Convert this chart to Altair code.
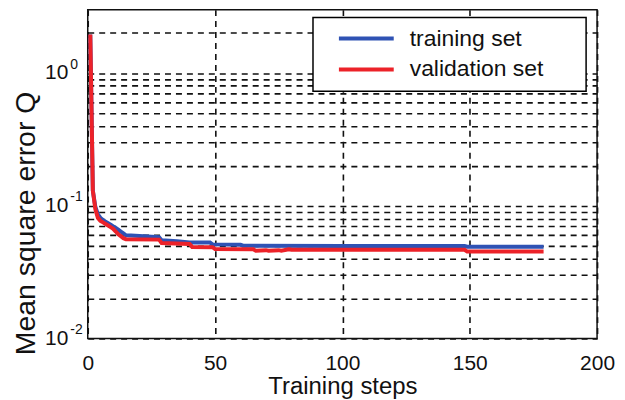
import altair as alt
import pandas as pd

# ---- data ----
train_epochs = [1, 2, 3, 4, 5, 6, 7, 8, 9, 10, 11, 12, 13, 14, 15, 17, 22, 28, 29, 35, 40, 48, 49, 60, 61, 100, 148, 149, 179]
train_mse = [1.95, 0.13, 0.098, 0.086, 0.081, 0.078, 0.076, 0.074, 0.072, 0.070, 0.068, 0.066, 0.064, 0.062, 0.060,
             0.0597, 0.0590, 0.0580, 0.0550, 0.0540, 0.0530, 0.0528, 0.0512, 0.0508, 0.0500, 0.0498, 0.0497, 0.0491, 0.0491]

val_epochs = [1, 2, 3, 4, 5, 6, 7, 8, 9, 10, 11, 12, 13, 14, 15, 28, 29, 40, 41, 49, 50, 65, 66, 70, 71, 75, 76, 79, 80, 148, 149, 179]
val_mse = [1.95, 0.13, 0.094, 0.081, 0.077, 0.075, 0.073, 0.071, 0.069, 0.067, 0.064, 0.061, 0.059, 0.057, 0.0560,
           0.0556, 0.0525, 0.0515, 0.0490, 0.0488, 0.0472, 0.0470, 0.0458, 0.0463, 0.0458, 0.0463, 0.0458, 0.0470, 0.0466,
           0.0466, 0.0452, 0.0452]

series_names = ["training set", "validation set"]
series_colors = ["#2f52b4", "#ec2229"]

x_ticks = [0, 50, 100, 150, 200]
y_decades = [0.01, 0.1, 1]
y_exponents = ["-2", "-1", "0"]
y_grid = [0.02, 0.03, 0.04, 0.05, 0.06, 0.07, 0.08, 0.09, 0.1, 0.2, 0.3, 0.4, 0.5, 0.6, 0.7, 0.8, 0.9, 1, 2]

df = pd.concat([
    pd.DataFrame({"epoch": train_epochs, "mse": train_mse, "series": series_names[0]}),
    pd.DataFrame({"epoch": val_epochs, "mse": val_mse, "series": series_names[1]}),
])

base_expr = "indexof(%s, datum.value) >= 0 ? '10' : ''" % str(y_decades)
exp_expr = ("datum.value == 1 ? '%s' : datum.value == 0.1 ? '%s' : datum.value == 0.01 ? '%s' : ''"
            % (y_exponents[2], y_exponents[1], y_exponents[0]))

FONT = "Liberation Sans"
x_enc = alt.X("epoch:Q",
              scale=alt.Scale(domain=[0, 200], nice=False, zero=False),
              axis=alt.Axis(values=x_ticks, title="Training steps", labelFlush=False,
                            labelFontSize=21, titleFontSize=24, labelPadding=14, titlePadding=1,
                            ticks=False, domain=False, grid=True))
y_scale = alt.Scale(type="log", domain=[0.01, 3], nice=False)

lines = alt.Chart(df).mark_line(strokeWidth=4, clip=True, interpolate="linear").encode(
    x=x_enc,
    y=alt.Y("mse:Q", scale=y_scale,
            axis=alt.Axis(orient="left", values=y_decades + y_grid, labelExpr=base_expr,
                          title="Mean square error Q",
                          labelFlush=False, labelOverlap=False, labelFontSize=21, labelPadding=20,
                          titleFontSize=28.5, titleAngle=270, titleAlign="center", titleBaseline="middle",
                          titleX=-62, titleY=214,
                          ticks=False, domain=False, grid=True)),
    color=alt.Color("series:N",
                    scale=alt.Scale(domain=series_names, range=series_colors),
                    legend=alt.Legend(title=None, orient="none", legendX=226, legendY=8,
                                      symbolType="stroke", symbolSize=3025, symbolStrokeWidth=4,
                                      labelFontSize=23, labelLimit=300, clipHeight=22, rowPadding=8,
                                      symbolOffset=14, labelOffset=14,
                                      labelExpr="datum.label + '\u00a0\u00a0\u00a0\u00a0\u00a0\u200b'",
                                      fillColor="white", strokeColor="black", padding=10)),
)

exponents = alt.Chart(df).mark_line(opacity=0).encode(
    x=x_enc,
    y=alt.Y("mse:Q", scale=y_scale,
            axis=alt.Axis(orient="left", values=y_decades, labelExpr=exp_expr, title=None,
                          labelFlush=False, labelOverlap=False, labelFontSize=14,
                          labelAlign="left", labelPadding=18, labelOffset=-9,
                          ticks=False, domain=False, grid=False)),
)

chart = alt.layer(lines, exponents).resolve_axis(y="independent").properties(
    width=511, height=330,
    autosize=alt.AutoSizeParams(type="none"),
    padding={"left": 80, "top": 1, "right": 20, "bottom": 62},
    background="white",
).configure(
    font=FONT,
).configure_axis(
    labelFont=FONT, titleFont=FONT, labelColor="#111", titleColor="#111",
    titleFontWeight="normal",
    gridColor="#111", gridDash=[6, 5], gridWidth=1.6, gridOpacity=1,
).configure_legend(
    labelFont=FONT, labelColor="#111", strokeWidth=1.5,
).configure_view(
    stroke="#111", strokeWidth=1.5,
)

chart.save("out.html", embed_options={"renderer": "svg", "actions": False})
